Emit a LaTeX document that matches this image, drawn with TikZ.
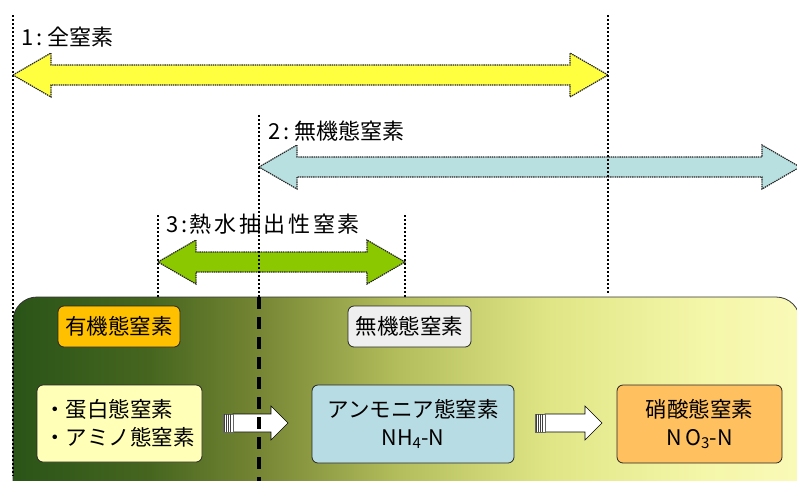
\documentclass[tikz,border=0pt]{standalone}
\usepackage{fontspec}
\setmainfont{Noto Sans CJK JP}
\newfontfamily\widefont{Noto Sans CJK JP}[LetterSpace=12]
\definecolor{gA}{HTML}{2A5418}
\definecolor{gB}{HTML}{46661F}
\definecolor{gC}{HTML}{768634}
\definecolor{gD}{HTML}{B4BE5C}
\definecolor{gE}{HTML}{E0E686}
\definecolor{gF}{HTML}{F4F6A8}
\definecolor{gG}{HTML}{FAFAB8}
\definecolor{arrY}{HTML}{FFFF40}
\definecolor{arrB}{HTML}{B8E0E0}
\definecolor{arrG}{HTML}{8CC800}
\definecolor{boxOrg}{HTML}{FFC000}
\definecolor{boxGry}{HTML}{EFEFEF}
\definecolor{boxYel}{HTML}{FFFFB8}
\definecolor{boxBlu}{HTML}{B8DCE4}
\definecolor{boxNit}{HTML}{FFC060}
\pgfdeclarehorizontalshading{bigbg}{100bp}{color(0bp)=(gA); color(25bp)=(gA); color(33.7bp)=(gB); color(40.7bp)=(gC); color(49.6bp)=(gD); color(59.2bp)=(gE); color(68.8bp)=(gF); color(75bp)=(gG); color(100bp)=(gG)}
\newcommand{\dblarr}[5]{% name, x1, x2, y, fill
  \path[draw=black!85, line width=1.2pt, dash pattern=on 1.4pt off 0.8pt, fill=#5]
    (#2,#4) -- ({#2+38},{#4-22}) -- ({#2+38},{#4-10}) -- ({#3-38},{#4-10}) -- ({#3-38},{#4-22})
    -- (#3,#4) -- ({#3-38},{#4+22}) -- ({#3-38},{#4+10}) -- ({#2+38},{#4+10}) -- ({#2+38},{#4+22}) -- cycle;
  \coordinate (#1) at ({(#2+#3)/2},#4);
}
\newcommand{\whitearr}[5]{% name, x-tail, x-headbase, x-tip, y
  \path[draw=black, line width=0.6pt, fill=white]
    ({#2+10},{#5-9}) -- (#3,{#5-9}) -- (#3,{#5-17}) -- (#4,#5) -- (#3,{#5+17}) -- (#3,{#5+9}) -- ({#2+10},{#5+9}) -- cycle;
  \path[fill=white, draw=black!60, line width=0.5pt] (#2,{#5-9}) rectangle ({#2+10},{#5+9});
  \foreach \k in {1,3,5,7}{\draw[black!75, line width=0.9pt] ({#2+\k+0.5},{#5-9}) -- ({#2+\k+0.5},{#5+9});}
  \coordinate (#1) at ({(#2+#4)/2},#5);
}
\begin{document}
\begin{tikzpicture}[x=1pt,y=-1pt,
  vdot/.style={line width=1.8pt, dash pattern=on 1.8pt off 2.2pt},
  lab/.style={anchor=west, inner sep=0pt, font=\fontsize{22}{24}\selectfont},
  kbox/.style={draw=black!85, line width=0.8pt, rounded corners=6pt, inner sep=0pt, align=center, font=\fontsize{21.5}{28}\selectfont},
]
\useasboundingbox (0,0) rectangle (797,480);
\clip (0,0) rectangle (797,480);
% big background box
\path[shading=bigbg, draw=black!80, line width=0.8pt, rounded corners=24pt] (13,297) rectangle (800,520);
% labels
\node[lab] (l1) at (21,37) {1\hspace{3pt}:\hspace{5pt}全窒素};
\node[lab] (l2) at (268,131) {2\hspace{3pt}:\hspace{5pt}無機態窒素};
\node[lab, font=\widefont\fontsize{22}{24}\selectfont] (l3) at (166,224) {3:熱水抽出性窒素};
% double arrows
\dblarr{a1}{13}{608}{75}{arrY}
\dblarr{a2}{259}{800}{167}{arrB}
\dblarr{a3}{158}{405}{262}{arrG}
% boxes
\node[kbox, fill=boxOrg, minimum width=122pt, minimum height=41pt] (org) at (119,326.5) {有機態窒素};
\node[kbox, fill=boxGry, minimum width=123pt, minimum height=41pt] (inorg) at (409.5,326.5) {無機態窒素};
\node[kbox, fill=boxYel, minimum width=165pt, minimum height=77pt, align=left] (prot) at (119.5,423.5) {・蛋白態窒素\\・アミノ態窒素};
\node[kbox, fill=boxBlu, minimum width=202pt, minimum height=78pt] (amm) at (413,424) {アンモニア態窒素\\NH\textsubscript{4}-N};
\node[kbox, fill=boxNit, minimum width=165pt, minimum height=78pt] (nit) at (699.5,424) {硝酸態窒素\\N\,O\textsubscript{3}-N};
% white process arrows
\whitearr{w1}{223}{271}{288}{423}
\whitearr{w2}{535}{585}{602}{423}
% vertical guide lines
\coordinate (v1t) at (13,15);   \coordinate (v1b) at (13,476);
\coordinate (v2t) at (608,15);  \coordinate (v2b) at (608,294);
\coordinate (v3t) at (259,115); \coordinate (v3m) at (259,297); \coordinate (v3b) at (259,482);
\coordinate (v4t) at (158,215); \coordinate (v4b) at (158,297);
\coordinate (v5t) at (405,215); \coordinate (v5b) at (405,297);
\draw[vdot] (v1t) -- (v1b);
\draw[vdot] (v2t) -- (v2b);
\draw[vdot] (v3t) -- (v3m);
\draw[vdot] (v4t) -- (v4b);
\draw[vdot] (v5t) -- (v5b);
\draw[line width=3.2pt, dash pattern=on 12pt off 8pt] (v3m) -- (v3b);
\end{tikzpicture}
\end{document}
